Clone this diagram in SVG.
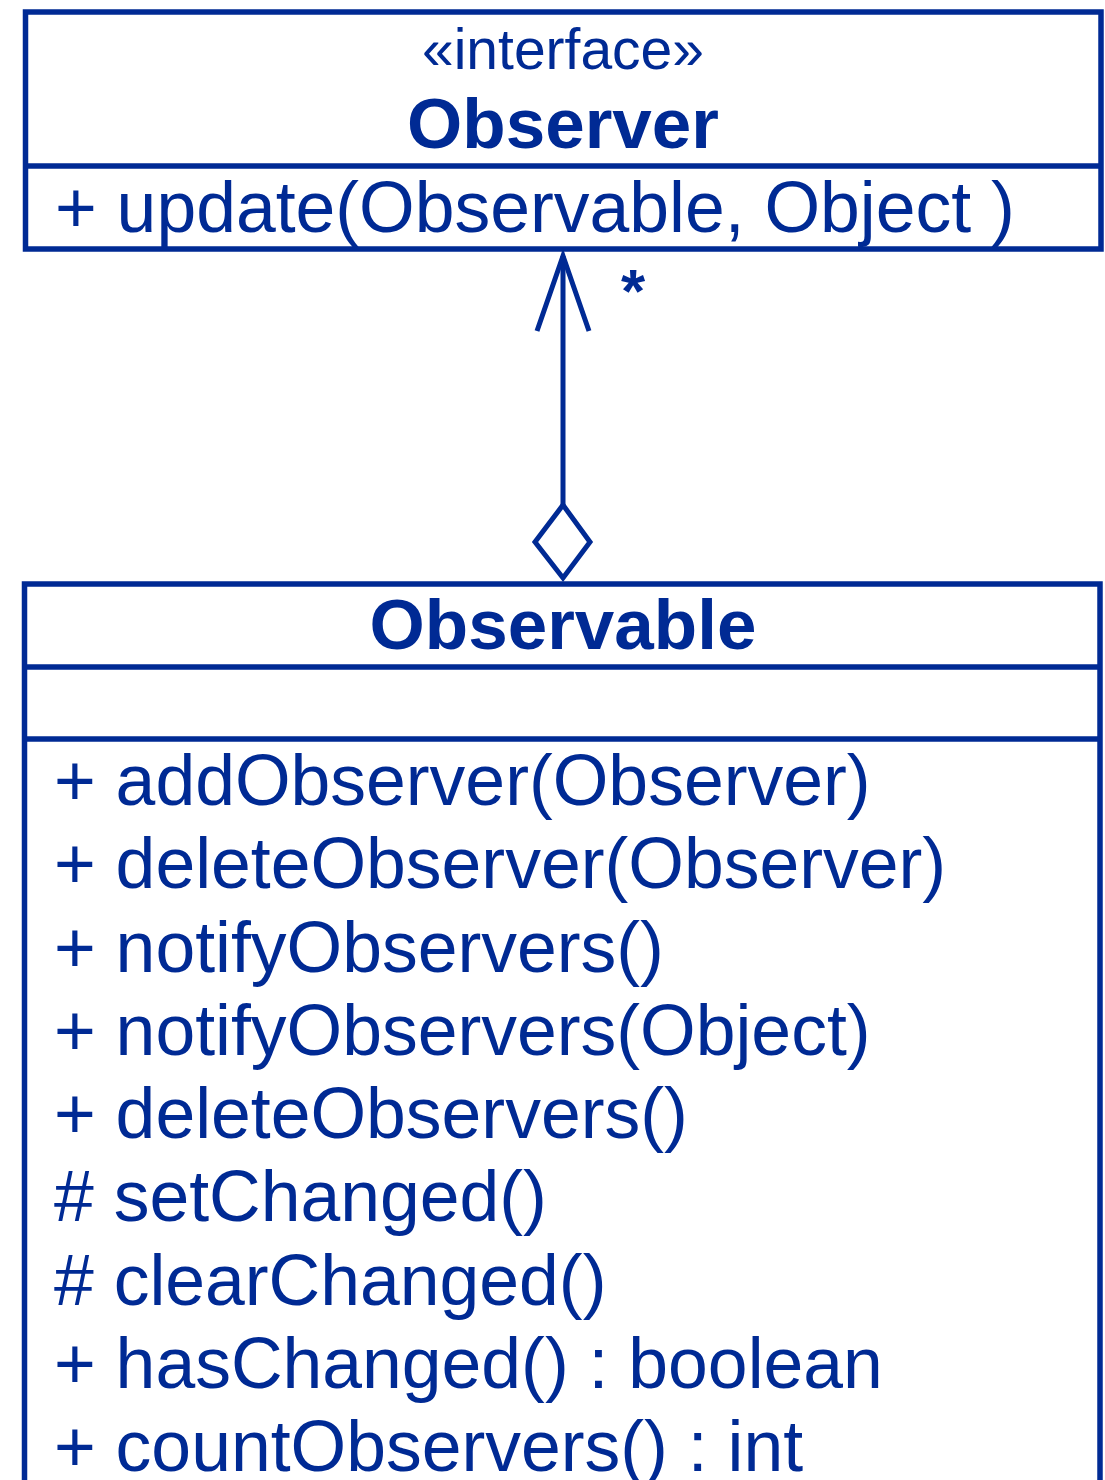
<svg xmlns="http://www.w3.org/2000/svg" width="1105" height="1480" viewBox="0 0 1105 1480">
  <style>
    .box { fill: #ffffff; stroke: #002a94; stroke-width: 5.5; }
    .div { stroke: #002a94; stroke-width: 5.5; }
    .t { font-family: "Liberation Sans", Arial, sans-serif; fill: #002a94; }
    .m { font-size: 71.5px; }
    .title { font-size: 71px; font-weight: bold; text-anchor: middle; }
    .stereo { font-size: 57px; text-anchor: middle; }
    .conn { stroke: #002a94; stroke-width: 5; fill: none; }
  </style>
  <rect width="1105" height="1480" fill="#ffffff"/>
  <g id="observer">
    <rect class="box" x="25.5" y="12" width="1075.5" height="237"/>
    <line class="div" x1="25.5" y1="166" x2="1101" y2="166"/>
    <text class="t stereo" x="563" y="69">«interface»</text>
    <text class="t title" x="563" y="148">Observer</text>
    <text class="t m" x="55" y="232">+ update(Observable, Object )</text>
  </g>
  <g id="observable">
    <rect class="box" x="24.5" y="584" width="1075.5" height="940"/>
    <line class="div" x1="24.5" y1="667" x2="1100" y2="667"/>
    <line class="div" x1="24.5" y1="739" x2="1100" y2="739"/>
    <text class="t title" x="563" y="649">Observable</text>
    <text class="t m" x="54" y="805">+ addObserver(Observer)</text>
    <text class="t m" x="54" y="888">+ deleteObserver(Observer)</text>
    <text class="t m" x="54" y="971.5">+ notifyObservers()</text>
    <text class="t m" x="54" y="1055">+ notifyObservers(Object)</text>
    <text class="t m" x="54" y="1138">+ deleteObservers()</text>
    <text class="t m" x="54" y="1221">#&#160;setChanged()</text>
    <text class="t m" x="54" y="1304.5">#&#160;clearChanged()</text>
    <text class="t m" x="54" y="1388">+ hasChanged() : boolean</text>
    <text class="t m" x="54" y="1471">+ countObservers() : int</text>
  </g>
  <g id="connectors">
    <line class="conn" x1="563" y1="505" x2="563" y2="256"/>
    <polyline class="conn" points="537,331 563,256 589,331"/>
    <polygon class="conn" points="563,505 590,542 563,578 535,542" fill="#ffffff"/>
    <text class="t" x="633" y="312" font-size="62" font-weight="bold" text-anchor="middle">*</text>
  </g>
</svg>
